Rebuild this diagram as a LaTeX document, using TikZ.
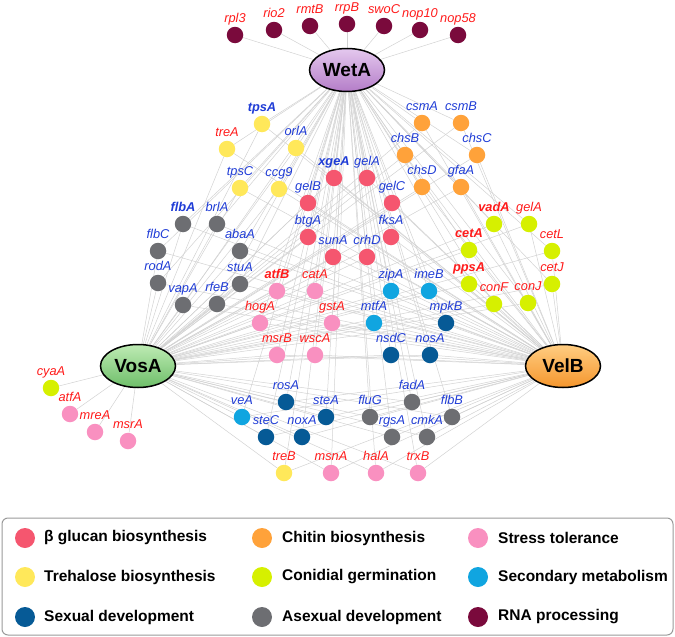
\documentclass[tikz,border=0pt]{standalone}
\usepackage{fontspec}
\setmainfont{Liberation Sans}
\usetikzlibrary{shapes.geometric}
\pgfdeclarelayer{bg}
\pgfsetlayers{bg,main}
\definecolor{cGlu}{HTML}{F5566F}
\definecolor{cChi}{HTML}{FFA23A}
\definecolor{cStr}{HTML}{F990C0}
\definecolor{cTre}{HTML}{FFE85A}
\definecolor{cGer}{HTML}{D6F000}
\definecolor{cSec}{HTML}{10A5E0}
\definecolor{cSex}{HTML}{065A96}
\definecolor{cAse}{HTML}{6D6E72}
\definecolor{cRna}{HTML}{7A0A3C}
\definecolor{lblB}{HTML}{1F3CD6}
\definecolor{lblR}{HTML}{FF1A1A}
\definecolor{edgeC}{HTML}{D2D2D2}
\definecolor{boxC}{HTML}{9A9A9A}
\newcommand\lbfont{\fontsize{12.8}{15}\selectfont\itshape}
\newcommand\gn[6]{\node[gene,fill=#4] (#1) at (#2,#3) {}; \node[#5,anchor=base] (#1l) at (#2,#3-13) {#6};}
\newcommand\gt[6]{\node[gene,fill=#4] (#1) at (#2,#3) {}; \node[#5,anchor=base] (#1l) at (#2,#3-12.3) {#6};}
\tikzset{
  gene/.style={circle, minimum size=16.5pt, inner sep=0pt, draw=none},
  lb/.style={font=\lbfont, text=lblB, inner sep=0pt},
  lr/.style={font=\lbfont, text=lblR, inner sep=0pt},
  lbb/.style={font=\lbfont\bfseries, text=lblB, inner sep=0pt},
  lrb/.style={font=\lbfont\bfseries, text=lblR, inner sep=0pt},
  hub/.style={ellipse, draw=black, line width=1.5pt, minimum width=75pt, minimum height=43pt, inner sep=0pt, font=\fontsize{19}{22}\selectfont\bfseries},
  edge/.style={draw=edgeC, line width=0.5pt},
  legdot/.style={circle, minimum size=20pt, inner sep=0pt},
  legtxt/.style={anchor=west, inner sep=0pt, font=\fontsize{15.5}{18}\selectfont\bfseries},
}
\begin{document}
\begin{tikzpicture}[x=1pt,y=-1pt]
\useasboundingbox (0,0) rectangle (675,637);
% hubs
\node[hub, top color={rgb,255:red,228;green,200;blue,238}, bottom color={rgb,255:red,180;green,125;blue,200}] (WetA) at (347,70) {WetA};
\node[hub, top color={rgb,255:red,190;green,235;blue,180}, bottom color={rgb,255:red,110;green,190;blue,105}] (VosA) at (138,366) {VosA};
\node[hub, top color={rgb,255:red,255;green,205;blue,130}, bottom color={rgb,255:red,245;green,150;blue,45}] (VelB) at (563,366) {VelB};
% RNA processing
\gt{rpl3}{235}{35}{cRna}{lr}{rpl3}
\gt{rio2}{274}{30}{cRna}{lr}{rio2}
\gt{rmtB}{310}{26}{cRna}{lr}{rmtB}
\gt{rrpB}{347}{24}{cRna}{lr}{rrpB}
\gt{swoC}{384}{26}{cRna}{lr}{swoC}
\gt{nop10}{420}{30}{cRna}{lr}{nop10}
\gt{nop58}{458}{35}{cRna}{lr}{nop58}
% trehalose
\gn{tpsA}{262}{124}{cTre}{lbb}{tpsA}
\gn{treA}{227}{149}{cTre}{lr}{treA}
\gn{orlA}{296}{148}{cTre}{lb}{orlA}
\gn{tpsC}{240}{188}{cTre}{lb}{tpsC}
\gn{ccg9}{279}{189}{cTre}{lb}{ccg9}
\gn{treB}{284}{473}{cTre}{lr}{treB}
% beta glucan
\gn{xgeA}{334}{178}{cGlu}{lbb}{xgeA}
\gn{gelAa}{367}{178}{cGlu}{lb}{gelA}
\gn{gelB}{308}{203}{cGlu}{lb}{gelB}
\gn{gelC}{392}{203}{cGlu}{lb}{gelC}
\gn{btgA}{308}{237}{cGlu}{lb}{btgA}
\gn{fksA}{391}{237}{cGlu}{lb}{fksA}
\gn{sunA}{333}{257}{cGlu}{lb}{sunA}
\gn{crhD}{367}{257}{cGlu}{lb}{crhD}
% chitin
\gn{csmA}{422}{123}{cChi}{lb}{csmA}
\gn{csmB}{461}{123}{cChi}{lb}{csmB}
\gn{chsB}{405}{155}{cChi}{lb}{chsB}
\gn{chsC}{477}{155}{cChi}{lb}{chsC}
\gn{chsD}{422}{187}{cChi}{lb}{chsD}
\gn{gfaA}{461}{187}{cChi}{lb}{gfaA}
% conidial germination
\gn{vadA}{494}{224}{cGer}{lrb}{vadA}
\gn{gelAb}{529}{224}{cGer}{lr}{gelA}
\gn{cetA}{469}{250}{cGer}{lrb}{cetA}
\gn{cetL}{552}{251}{cGer}{lr}{cetL}
\gn{ppsA}{469}{284}{cGer}{lrb}{ppsA}
\gn{cetJ}{552}{284}{cGer}{lr}{cetJ}
\gn{conF}{494}{304}{cGer}{lr}{conF}
\gn{conJ}{528}{303}{cGer}{lr}{conJ}
\gn{cyaA}{51}{388}{cGer}{lr}{cyaA}
% asexual
\gn{flbA}{183}{224}{cAse}{lbb}{flbA}
\gn{brlA}{217}{224}{cAse}{lb}{brlA}
\gn{flbC}{158}{251}{cAse}{lb}{flbC}
\gn{abaA}{240}{251}{cAse}{lb}{abaA}
\gn{rodA}{158}{283}{cAse}{lb}{rodA}
\gn{stuA}{240}{284}{cAse}{lb}{stuA}
\gn{vapA}{183}{305}{cAse}{lb}{vapA}
\gn{rfeB}{217}{304}{cAse}{lb}{rfeB}
\gn{fadA}{412}{402}{cAse}{lb}{fadA}
\gn{fluG}{370}{417}{cAse}{lb}{fluG}
\gn{flbB}{452}{417}{cAse}{lb}{flbB}
\gn{rgsA}{392}{437}{cAse}{lb}{rgsA}
\gn{cmkA}{427}{437}{cAse}{lb}{cmkA}
% stress
\gn{atfB}{277}{291}{cStr}{lrb}{atfB}
\gn{catA}{315}{291}{cStr}{lr}{catA}
\gn{hogA}{260}{323}{cStr}{lr}{hogA}
\gn{gstA}{332}{323}{cStr}{lr}{gstA}
\gn{msrB}{277}{355}{cStr}{lr}{msrB}
\gn{wscA}{315}{355}{cStr}{lr}{wscA}
\gn{msnA}{331}{473}{cStr}{lr}{msnA}
\gn{halA}{376}{473}{cStr}{lr}{halA}
\gn{trxB}{418}{473}{cStr}{lr}{trxB}
\gn{atfA}{70}{414}{cStr}{lr}{atfA}
\gn{mreA}{95}{432}{cStr}{lr}{mreA}
\gn{msrA}{128}{441}{cStr}{lr}{msrA}
% secondary metabolism
\gn{zipA}{391}{291}{cSec}{lb}{zipA}
\gn{imeB}{429}{291}{cSec}{lb}{imeB}
\gn{mtfA}{374}{323}{cSec}{lb}{mtfA}
\gn{veA}{242}{417}{cSec}{lb}{veA}
% sexual development
\gn{mpkB}{446}{323}{cSex}{lb}{mpkB}
\gn{nsdC}{391}{355}{cSex}{lb}{nsdC}
\gn{nosA}{430}{355}{cSex}{lb}{nosA}
\gn{rosA}{286}{402}{cSex}{lb}{rosA}
\gn{steA}{326}{417}{cSex}{lb}{steA}
\gn{steC}{266}{437}{cSex}{lb}{steC}
\gn{noxA}{302}{437}{cSex}{lb}{noxA}
% edges
\begin{pgfonlayer}{bg}
\foreach \n in {rpl3,rio2,rmtB,rrpB,swoC,nop10,nop58}
  \draw[edge] (WetA) -- (\n);
\foreach \n in {cyaA,atfA,mreA,msrA}
  \draw[edge] (VosA) -- (\n);
\foreach \n in {tpsA,treA,orlA,tpsC,ccg9,xgeA,gelAa,gelB,gelC,btgA,fksA,sunA,crhD,csmA,csmB,chsB,chsC,chsD,gfaA,vadA,gelAb,cetA,cetL,ppsA,conF,conJ,cetJ,flbA,brlA,flbC,abaA,rodA,stuA,vapA,rfeB,atfB,catA,hogA,gstA,msrB,wscA,zipA,imeB,mtfA,mpkB,nsdC,nosA,rosA,steA,veA,steC,noxA,fluG,fadA,flbB,rgsA,cmkA,treB,msnA,halA,trxB}
  {\draw[edge] (WetA) -- (\n); \draw[edge] (VosA) -- (\n); \draw[edge] (VelB) -- (\n);}
\end{pgfonlayer}
% legend
\node[draw=boxC, line width=1pt, rounded corners=6pt, minimum width=671pt, minimum height=117pt, inner sep=0pt] (legend) at (337.5,576.5) {};
\node[legdot, fill=cGlu] (k1) at (25,538) {}; \node[legtxt] (t1) at (44,538) {β glucan biosynthesis};
\node[legdot, fill=cChi] (k2) at (262,538) {}; \node[legtxt] (t2) at (282,538) {Chitin biosynthesis};
\node[legdot, fill=cStr] (k3) at (478,538) {}; \node[legtxt] (t3) at (498,538) {Stress tolerance};
\node[legdot, fill=cTre] (k4) at (25,577) {}; \node[legtxt] (t4) at (44,577) {Trehalose biosynthesis};
\node[legdot, fill=cGer] (k5) at (262,577) {}; \node[legtxt] (t5) at (282,577) {Conidial germination};
\node[legdot, fill=cSec] (k6) at (478,577) {}; \node[legtxt] (t6) at (498,577) {Secondary metabolism};
\node[legdot, fill=cSex] (k7) at (25,617) {}; \node[legtxt] (t7) at (44,617) {Sexual development};
\node[legdot, fill=cAse] (k8) at (262,617) {}; \node[legtxt] (t8) at (282,617) {Asexual development};
\node[legdot, fill=cRna] (k9) at (478,617) {}; \node[legtxt] (t9) at (498,617) {RNA processing};
\end{tikzpicture}
\end{document}
